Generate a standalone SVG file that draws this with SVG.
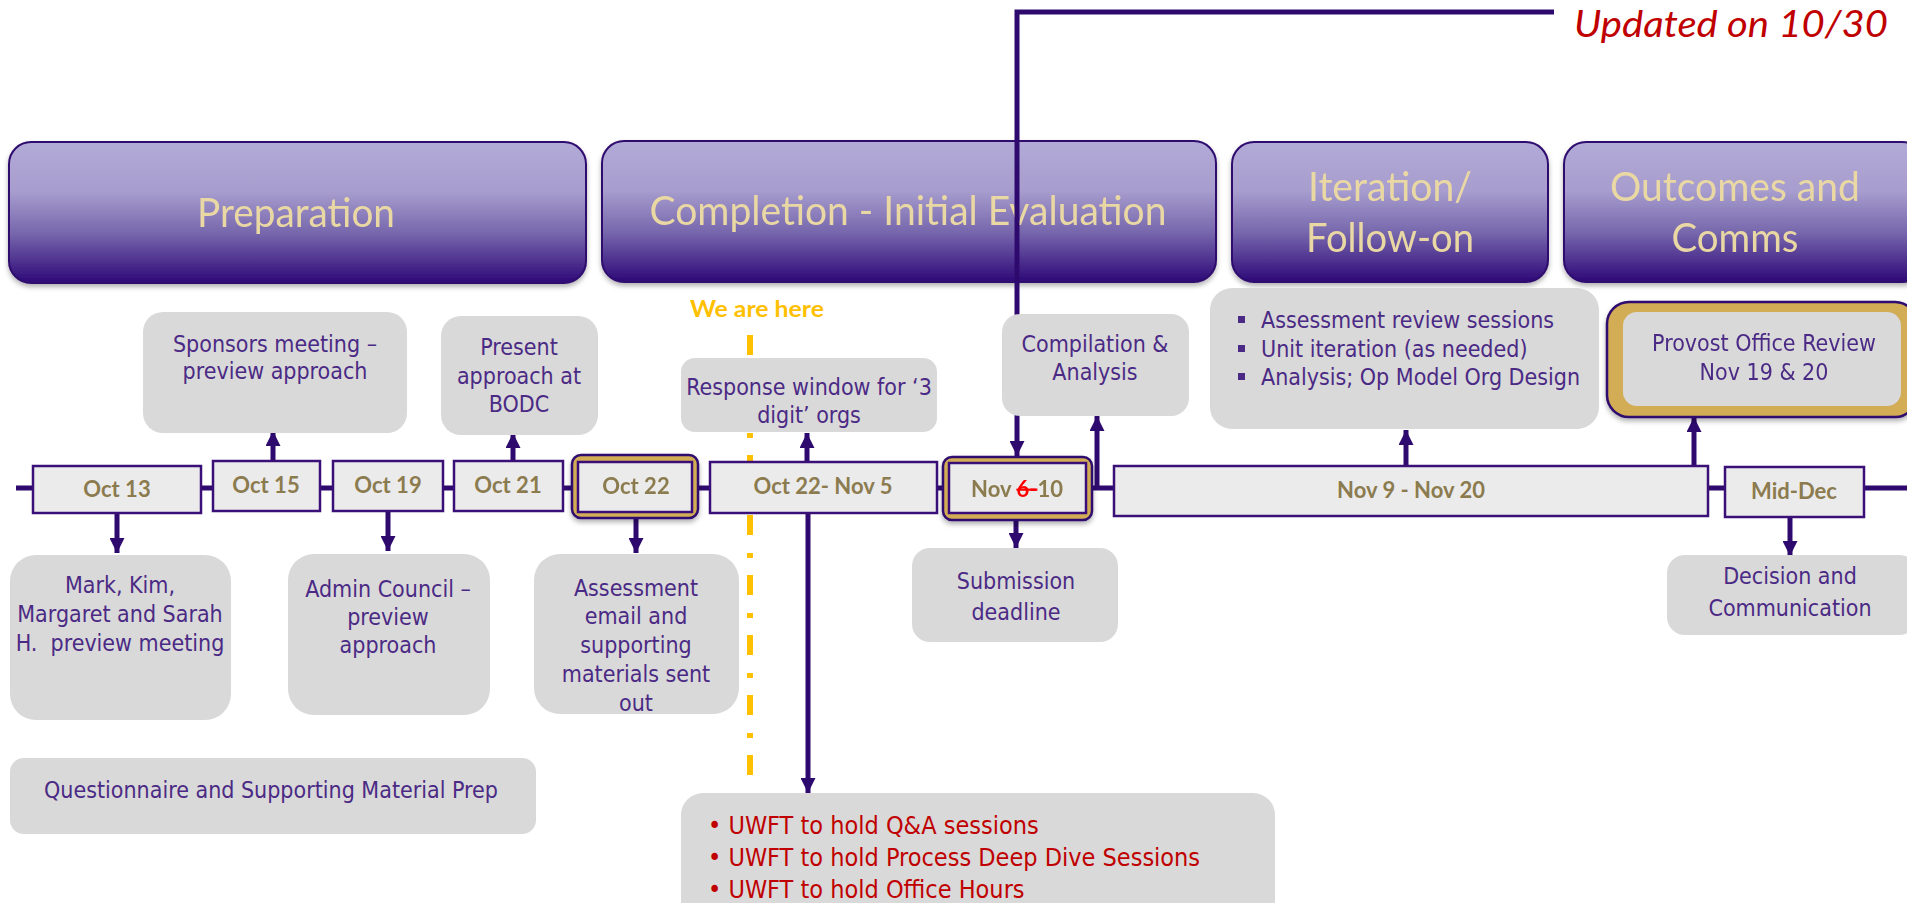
<svg xmlns="http://www.w3.org/2000/svg" width="1907" height="903" viewBox="0 0 1907 903">
<style>
.hdr{fill:url(#hg);stroke:#2E0A6E;stroke-width:2}
.htx{font-family:Lato,"Open Sans",sans-serif;font-size:41px;fill:#EAD8A4;text-anchor:middle}
.db{fill:#EBEBEB;stroke:#3A1078;stroke-width:2.5}
.gold{fill:#D3AC57;stroke:#2E0A6E;stroke-width:2.5}
.dt{font-family:Lato,"Open Sans",sans-serif;font-weight:bold;font-size:22px;fill:#8B7B4F;text-anchor:middle}
.ev{fill:#D9D9D9}
.et{font-family:"Liberation Sans Narrow","Arial Narrow","DejaVu Sans Condensed",sans-serif;font-size:23px;fill:#4B2A85;text-anchor:middle}
.el{font-family:"Liberation Sans Narrow","Arial Narrow","DejaVu Sans Condensed",sans-serif;font-size:23px;fill:#4B2A85}
.red{font-family:"Liberation Sans Narrow","Arial Narrow","DejaVu Sans Condensed",sans-serif;font-size:25px;fill:#C00000}
.cn{stroke:#2E0A6E;stroke-width:5;fill:none}
.ar{stroke:#2E0A6E;stroke-width:5;fill:none;marker-end:url(#ah)}
</style>
<defs>
<linearGradient id="hg" x1="0" y1="0" x2="0" y2="1">
<stop offset="0" stop-color="#B2AAD7"/>
<stop offset="0.35" stop-color="#A79DCE"/>
<stop offset="0.65" stop-color="#7666AC"/>
<stop offset="1" stop-color="#2E0878"/>
</linearGradient>
<marker id="ah" viewBox="0 0 10 10" refX="10" refY="5" markerWidth="3" markerHeight="3" orient="auto" markerUnits="strokeWidth">
<path d="M0,0 L10,5 L0,10 z" fill="#2E0A6E"/>
</marker>
<filter id="sh" x="-5%" y="-10%" width="110%" height="130%">
<feDropShadow dx="0" dy="3" stdDeviation="2.5" flood-color="#000" flood-opacity="0.3"/>
</filter>
</defs>
<rect width="1907" height="903" fill="#FFFFFF"/>

<g id="updated-note">
<text x="1574" y="37" font-family="Lato,'Open Sans',sans-serif" font-style="italic" font-size="36" fill="#C00000" textLength="314" lengthAdjust="spacingAndGlyphs">Updated on 10/30</text>
</g>

<g id="phase-preparation" filter="url(#sh)">
<rect class="hdr" x="9" y="142" width="577" height="141" rx="22"/>
<text class="htx" x="296" y="227" textLength="198" lengthAdjust="spacingAndGlyphs">Preparation</text>
</g>
<g id="phase-completion" filter="url(#sh)">
<rect class="hdr" x="602" y="141" width="614" height="141" rx="22"/>
<text class="htx" x="908" y="225" textLength="517" lengthAdjust="spacingAndGlyphs">Completion - Initial Evaluation</text>
</g>
<g id="phase-iteration" filter="url(#sh)">
<rect class="hdr" x="1232" y="142" width="316" height="140" rx="22"/>
<text class="htx" x="1390" y="201" textLength="164" lengthAdjust="spacingAndGlyphs">Iteration/</text>
<text class="htx" x="1390" y="252" textLength="168" lengthAdjust="spacingAndGlyphs">Follow-on</text>
</g>
<g id="phase-outcomes" filter="url(#sh)">
<rect class="hdr" x="1564" y="142" width="360" height="140" rx="22"/>
<text class="htx" x="1735" y="201" textLength="250" lengthAdjust="spacingAndGlyphs">Outcomes and</text>
<text class="htx" x="1735" y="252" textLength="127" lengthAdjust="spacingAndGlyphs">Comms</text>
</g>

<g id="we-are-here">
<text x="757" y="317" font-family="Lato,'Open Sans',sans-serif" font-weight="bold" font-size="23" fill="#FFC000" text-anchor="middle" textLength="134" lengthAdjust="spacingAndGlyphs">We are here</text>
<line x1="750" y1="335" x2="750" y2="800" stroke="#FFC000" stroke-width="6" stroke-dasharray="20 18 5 17"/>
</g>

<g id="connectors">
<line class="cn" x1="16" y1="488" x2="1907" y2="488"/>
<polyline class="ar" points="1554,12 1017,12 1017,456"/>
<line class="ar" x1="117" y1="513" x2="117" y2="553"/>
<line class="ar" x1="273" y1="461" x2="273" y2="431"/>
<line class="ar" x1="388" y1="511" x2="388" y2="551"/>
<line class="ar" x1="513" y1="461" x2="513" y2="433"/>
<line class="ar" x1="636" y1="518" x2="636" y2="553"/>
<line class="ar" x1="807" y1="462" x2="807" y2="433"/>
<line class="ar" x1="808" y1="513" x2="808" y2="793"/>
<line class="ar" x1="1016" y1="520" x2="1016" y2="548"/>
<line class="ar" x1="1097" y1="488" x2="1097" y2="416"/>
<line class="ar" x1="1406" y1="466" x2="1406" y2="430"/>
<line class="ar" x1="1694" y1="466" x2="1694" y2="417"/>
<line class="ar" x1="1790" y1="517" x2="1790" y2="556"/>
</g>

<g id="date-oct13"><rect class="db" x="33" y="466" width="168" height="47"/><text class="dt" x="117" y="497">Oct 13</text></g>
<g id="date-oct15"><rect class="db" x="213" y="461" width="107" height="50"/><text class="dt" x="266" y="493">Oct 15</text></g>
<g id="date-oct19"><rect class="db" x="333" y="461" width="110" height="50"/><text class="dt" x="388" y="493">Oct 19</text></g>
<g id="date-oct21"><rect class="db" x="454" y="461" width="109" height="50"/><text class="dt" x="508" y="493">Oct 21</text></g>
<g id="date-oct22" filter="url(#sh)"><rect class="gold" x="572" y="455" width="126" height="63" rx="9"/><rect class="db" x="578" y="462" width="114" height="50"/><text class="dt" x="636" y="494">Oct 22</text></g>
<g id="date-oct22-nov5"><rect class="db" x="710" y="462" width="227" height="51"/><text class="dt" x="823" y="494">Oct 22- Nov 5</text></g>
<g id="date-nov6-10" filter="url(#sh)"><rect class="gold" x="943" y="457" width="149" height="63" rx="9"/><rect class="db" x="949" y="463" width="137" height="50"/><text class="dt" x="1017" y="497">Nov <tspan fill="#FF0000" text-decoration="line-through">6-</tspan>10</text></g>
<g id="date-nov9-nov20"><rect class="db" x="1114" y="466" width="594" height="50"/><text class="dt" x="1411" y="498">Nov 9 - Nov 20</text></g>
<g id="date-mid-dec"><rect class="db" x="1725" y="467" width="139" height="50"/><text class="dt" x="1794" y="499">Mid-Dec</text></g>

<g id="ev-sponsors"><rect class="ev" x="143" y="312" width="264" height="121" rx="20"/><text class="et" x="275" y="352">Sponsors meeting –</text><text class="et" x="275" y="379">preview approach</text></g>
<g id="ev-bodc"><rect class="ev" x="441" y="316" width="157" height="119" rx="20"/><text class="et" x="519" y="355">Present</text><text class="et" x="519" y="384">approach at</text><text class="et" x="519" y="412">BODC</text></g>
<g id="ev-response"><rect class="ev" x="681" y="358" width="256" height="74" rx="14"/><text class="et" x="809" y="395">Response window for ‘3</text><text class="et" x="809" y="423">digit’ orgs</text></g>
<g id="ev-compilation"><rect class="ev" x="1002" y="314" width="187" height="102" rx="18"/><text class="et" x="1095" y="352">Compilation &amp;</text><text class="et" x="1095" y="380">Analysis</text></g>
<g id="ev-iteration-list"><rect class="ev" x="1210" y="288" width="389" height="141" rx="22"/>
<rect x="1238" y="316" width="7" height="7" fill="#4B2A85"/><rect x="1238" y="345" width="7" height="7" fill="#4B2A85"/><rect x="1238" y="373" width="7" height="7" fill="#4B2A85"/>
<text class="el" x="1261" y="328">Assessment review sessions</text><text class="el" x="1261" y="357">Unit iteration (as needed)</text><text class="el" x="1261" y="385">Analysis; Op Model Org Design</text></g>
<g id="ev-provost" filter="url(#sh)"><rect class="gold" x="1607" y="302" width="310" height="115" rx="22"/><rect x="1623" y="312" width="278" height="94" rx="14" fill="#D9D9D9"/><text class="et" x="1764" y="351">Provost Office Review</text><text class="et" x="1764" y="380">Nov 19 &amp; 20</text></g>
<g id="ev-mark-kim"><rect class="ev" x="10" y="555" width="221" height="165" rx="26"/><text class="et" x="120" y="593">Mark, Kim,</text><text class="et" x="120" y="622">Margaret and Sarah</text><text class="et" x="120" y="651" xml:space="preserve">H.  preview meeting</text></g>
<g id="ev-admin-council"><rect class="ev" x="288" y="554" width="202" height="161" rx="26"/><text class="et" x="388" y="597">Admin Council –</text><text class="et" x="388" y="625">preview</text><text class="et" x="388" y="653">approach</text></g>
<g id="ev-assessment-email"><rect class="ev" x="534" y="554" width="205" height="160" rx="26"/><text class="et" x="636" y="596">Assessment</text><text class="et" x="636" y="624">email and</text><text class="et" x="636" y="653">supporting</text><text class="et" x="636" y="682">materials sent</text><text class="et" x="636" y="711">out</text></g>
<g id="ev-questionnaire"><rect class="ev" x="10" y="758" width="526" height="76" rx="14"/><text class="et" x="271" y="798">Questionnaire and Supporting Material Prep</text></g>
<g id="ev-uwft"><rect class="ev" x="681" y="793" width="594" height="130" rx="22"/><text class="red" x="708" y="834">• UWFT to hold Q&amp;A sessions</text><text class="red" x="708" y="866">• UWFT to hold Process Deep Dive Sessions</text><text class="red" x="708" y="898">• UWFT to hold Office Hours</text></g>
<g id="ev-submission"><rect class="ev" x="912" y="548" width="206" height="94" rx="18"/><text class="et" x="1016" y="589" font-size="24">Submission</text><text class="et" x="1016" y="620" font-size="24">deadline</text></g>
<g id="ev-decision"><rect class="ev" x="1667" y="555" width="250" height="80" rx="18"/><text class="et" x="1790" y="584" font-size="24">Decision and</text><text class="et" x="1790" y="616" font-size="24">Communication</text></g>
</svg>
